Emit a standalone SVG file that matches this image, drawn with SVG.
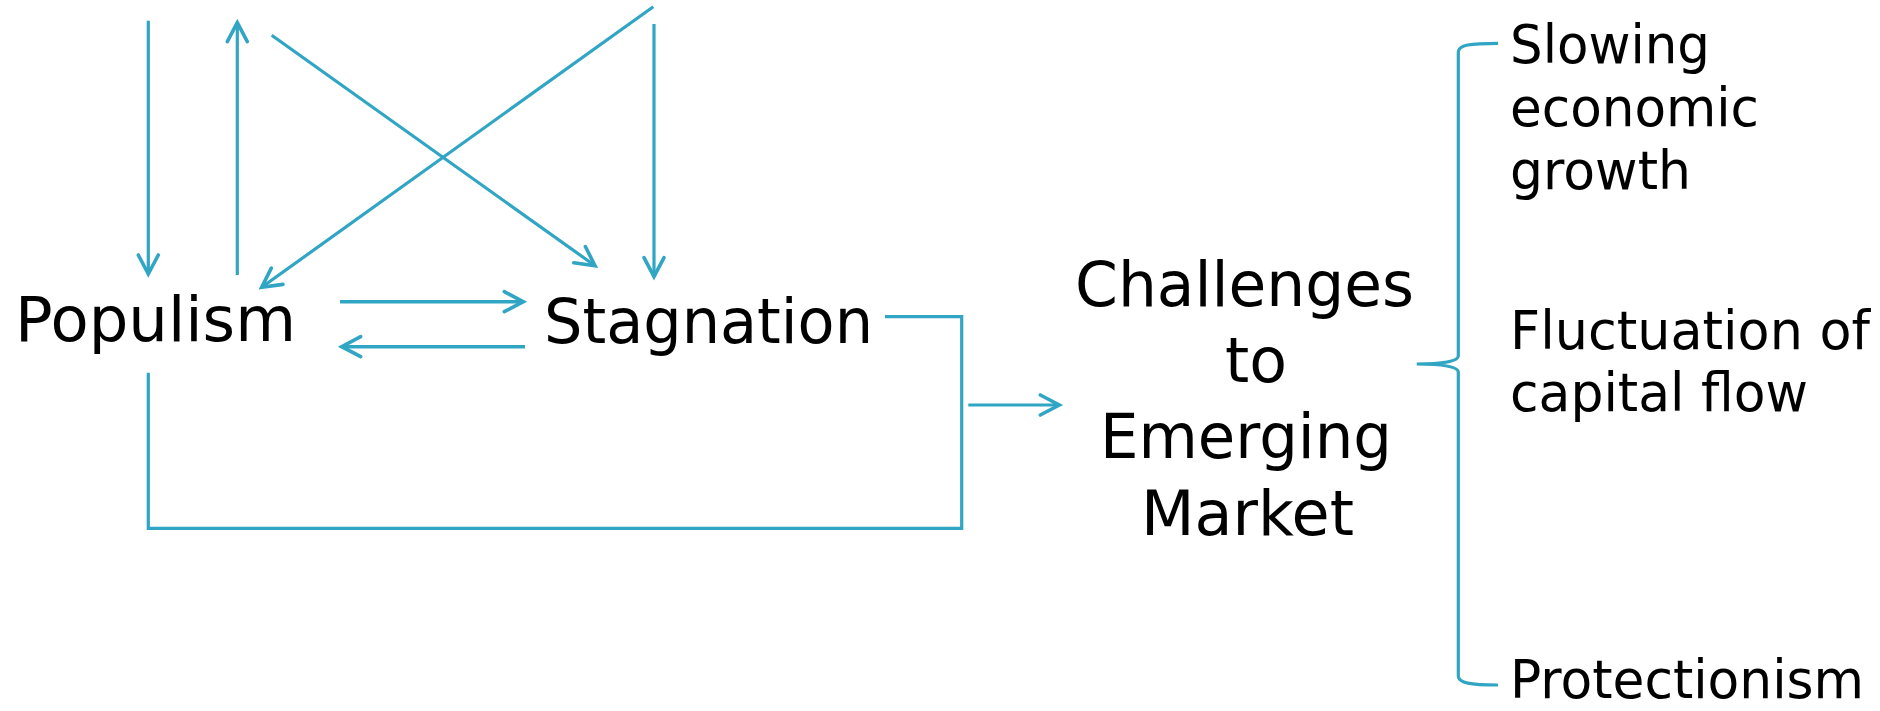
<svg xmlns="http://www.w3.org/2000/svg" width="1880" height="711" viewBox="0 0 1880 711">
  <defs>
    <style>
      .t { font-family: "DejaVu Sans", "Liberation Sans", sans-serif; fill: #000; }
      .big { font-size: 63px; }
      .small { font-size: 54px; }
      .ln { stroke: #31A5C4; stroke-width: 3.2; fill: none; stroke-linecap: butt; }
      .thick { stroke-width: 3.6; }
    </style>
    <marker id="arr" markerUnits="userSpaceOnUse" markerWidth="30" markerHeight="30" viewBox="-25 -15 30 30" refX="0" refY="0" orient="auto">
      <path d="M -19 -10 L 0 0 L -19 10" fill="none" stroke="#31A5C4" stroke-width="3.6" stroke-linecap="round" stroke-linejoin="miter"/>
    </marker>
  </defs>
  <rect width="1880" height="711" fill="#ffffff"/>

  <g id="connectors">
    <line class="ln" x1="148.3" y1="20.7" x2="148.3" y2="274" marker-end="url(#arr)"/>
    <line class="ln" x1="237.3" y1="275" x2="237.3" y2="22.7" marker-end="url(#arr)"/>
    <line class="ln" x1="271.7" y1="35.3" x2="595" y2="265.7" marker-end="url(#arr)"/>
    <line class="ln" x1="653.3" y1="6.7" x2="261.7" y2="287.3" marker-end="url(#arr)"/>
    <line class="ln" x1="654" y1="24" x2="654" y2="276.7" marker-end="url(#arr)"/>
    <line class="ln thick" x1="340" y1="301.7" x2="523.3" y2="301.7" marker-end="url(#arr)"/>
    <line class="ln thick" x1="525" y1="346.7" x2="341.7" y2="346.7" marker-end="url(#arr)"/>
    <polyline class="ln" points="885,316.7 961.7,316.7 961.7,528.3 148.3,528.3 148.3,372.7"/>
    <line class="ln" x1="968.3" y1="405" x2="1059.3" y2="405" marker-end="url(#arr)"/>
    <path class="ln" d="M 1498 43.3 C 1470 43.3, 1458.3 45, 1458.3 52 L 1458.3 356 C 1458.3 361.5, 1442 364, 1416.7 364 C 1442 364, 1458.3 366.5, 1458.3 372 L 1458.3 676 C 1458.3 683, 1470 685, 1498 685"/>
  </g>

  <g id="populism">
    <text class="t big" x="15" y="341" textLength="281" lengthAdjust="spacingAndGlyphs">Populism</text>
  </g>
  <g id="stagnation">
    <text class="t big" x="544" y="343" textLength="329" lengthAdjust="spacingAndGlyphs">Stagnation</text>
  </g>
  <g id="challenges">
    <text class="t big" x="1075" y="306" textLength="339" lengthAdjust="spacingAndGlyphs">Challenges</text>
    <text class="t big" x="1225" y="381.7" textLength="62" lengthAdjust="spacingAndGlyphs">to</text>
    <text class="t big" x="1100" y="458.3" textLength="292" lengthAdjust="spacingAndGlyphs">Emerging</text>
    <text class="t big" x="1141" y="535" textLength="213" lengthAdjust="spacingAndGlyphs">Market</text>
  </g>
  <g id="slowing">
    <text class="t small" x="1510" y="62.7" textLength="200" lengthAdjust="spacingAndGlyphs">Slowing</text>
    <text class="t small" x="1510" y="125.5" textLength="249" lengthAdjust="spacingAndGlyphs">economic</text>
    <text class="t small" x="1510" y="189" textLength="181" lengthAdjust="spacingAndGlyphs">growth</text>
  </g>
  <g id="fluctuation">
    <text class="t small" x="1510" y="349.3" textLength="360" lengthAdjust="spacingAndGlyphs">Fluctuation of</text>
    <text class="t small" x="1510" y="410.5" textLength="298" lengthAdjust="spacingAndGlyphs">capital flow</text>
  </g>
  <g id="protectionism">
    <text class="t small" x="1510" y="698" textLength="354" lengthAdjust="spacingAndGlyphs">Protectionism</text>
  </g>
</svg>
